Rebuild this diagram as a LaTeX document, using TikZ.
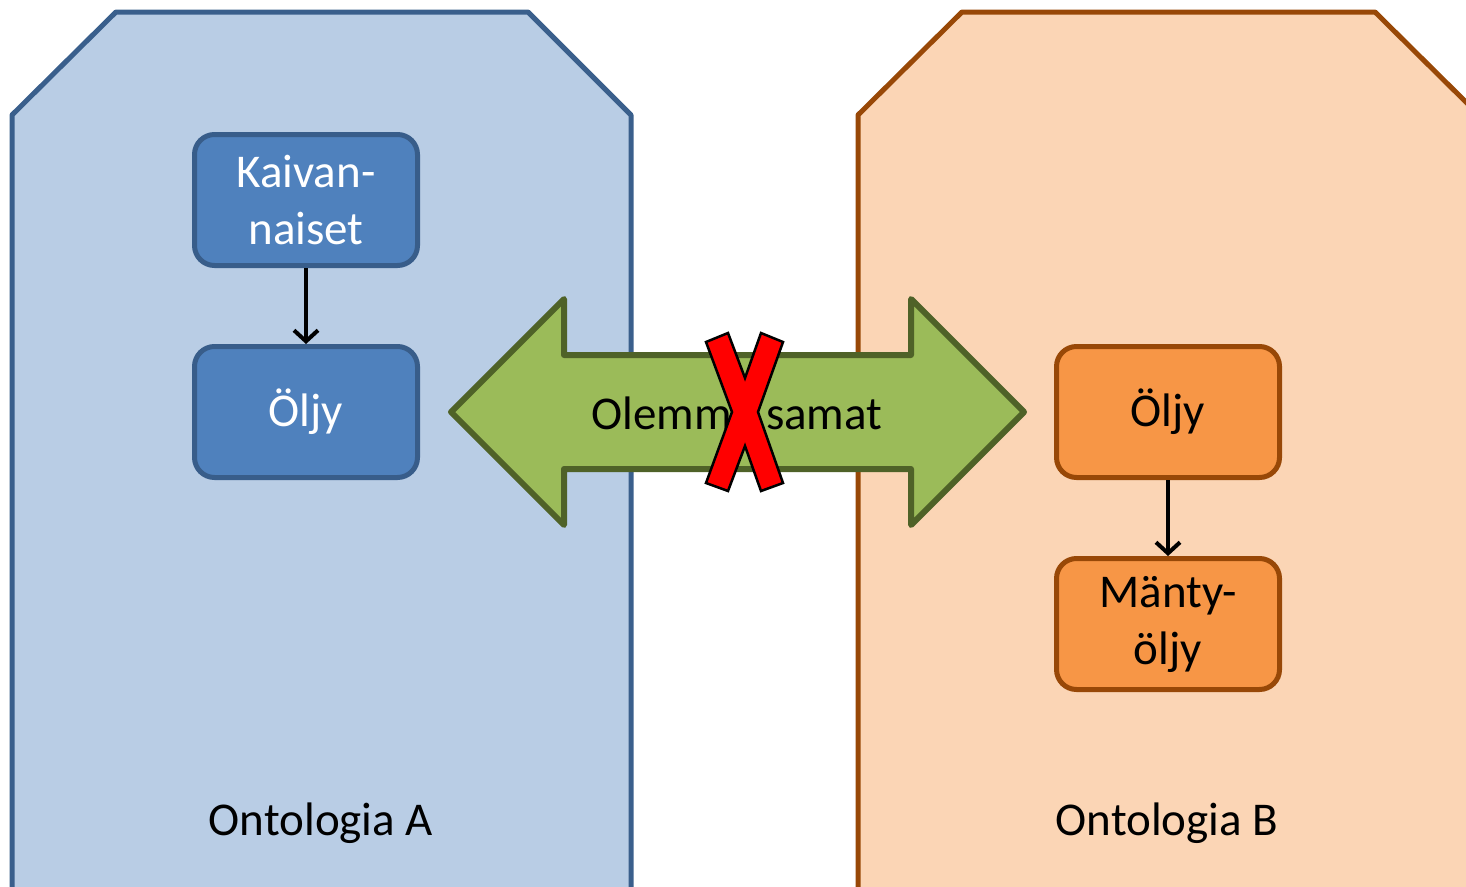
\documentclass[tikz,border=0pt]{standalone}
\usepackage{fontspec}
\setmainfont{Carlito}
\usetikzlibrary{arrows.meta}
\definecolor{panelAfill}{HTML}{B9CDE5}
\definecolor{panelAline}{HTML}{3A5F8C}
\definecolor{panelBfill}{HTML}{FBD5B5}
\definecolor{panelBline}{HTML}{984807}
\definecolor{boxAfill}{HTML}{4F81BD}
\definecolor{boxAline}{HTML}{385D8A}
\definecolor{boxBfill}{HTML}{F79646}
\definecolor{boxBline}{HTML}{984807}
\definecolor{greenfill}{HTML}{9BBB59}
\definecolor{greenline}{HTML}{4F6228}
\definecolor{xred}{HTML}{FF0000}
\tikzset{
  bigfont/.style={font=\fontsize{47}{57}\selectfont},
  boxA/.style={draw=boxAline, fill=boxAfill, line width=5pt, rounded corners=20pt,
    minimum width=223pt, minimum height=131pt, text=white, align=center, bigfont, inner sep=0pt},
  boxB/.style={draw=boxBline, fill=boxBfill, line width=5pt, rounded corners=20pt,
    minimum width=223pt, minimum height=131pt, text=black, align=center, bigfont, inner sep=0pt},
  link/.style={line width=4pt, -{Straight Barb[length=11pt,width=24pt,line width=4pt]}},
}
\begin{document}
\begin{tikzpicture}[x=1pt,y=-1pt]
\useasboundingbox (0,0) rectangle (1466,886);
\clip (0,0) rectangle (1466,886);
% panels
\draw[panelAline, fill=panelAfill, line width=5pt, line join=round]
  (12,895) -- (12,115) -- (116,12) -- (528,12) -- (631,115) -- (631,895);
\draw[panelBline, fill=panelBfill, line width=5pt, line join=round]
  (858,895) -- (858,115) -- (962,12) -- (1375,12) -- (1479,115) -- (1479,895);
% boxes
\node[boxA] (kai) at (306,200) {Kaivan-\\naiset};
\node[boxA] (oa) at (306,412) {Öljy};
\node[boxB] (ob) at (1168,412) {Öljy};
\node[boxB] (man) at (1168,624) {Mänty-\\öljy};
\draw[link] (kai.south) -- (oa.north);
\draw[link] (ob.south) -- (man.north);
% double arrow
\draw[greenline, fill=greenfill, line width=6pt, line join=round]
  (451,412) -- (564,299) -- (564,355) -- (911,355) -- (911,299) -- (1024,412)
  -- (911,525) -- (911,469) -- (564,469) -- (564,525) -- cycle;
\node[bigfont, text=black] (same) at (737,413) {Olemme samat};
% red X
\draw[black, fill=xred, line width=2.5pt, line join=miter]
  (706,342) -- (728,333) -- (745,378) -- (761,333) -- (783,342) -- (758,412)
  -- (783,483) -- (761,491) -- (745,446) -- (728,491) -- (706,483) -- (732,412) -- cycle;
% labels
\node[bigfont, text=black] (la) at (321,823) {Ontologia A};
\node[bigfont, text=black] (lb) at (1167,823) {Ontologia B};
\end{tikzpicture}
\end{document}
